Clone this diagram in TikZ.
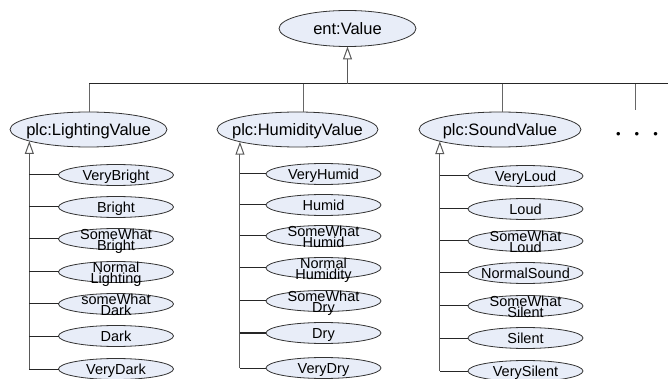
\documentclass[tikz,border=0pt]{standalone}
\usepackage{fontspec}
\setmainfont{Liberation Sans}
\usetikzlibrary{arrows.meta,shapes.geometric}
\definecolor{efill}{HTML}{E8EDF8}
\newcommand{\oneline}[1]{\makebox[0pt]{\raisebox{-0.36em}[0pt][0pt]{#1}}}
\newcommand{\twoline}[2]{\makebox[0pt]{\raisebox{-11.2pt}[0pt][0pt]{\vbox{\baselineskip=11pt\lineskiplimit=-100pt\halign{\hfil##\hfil\cr#1\cr#2\cr}}}}}
\tikzset{
  ell/.style={ellipse, draw=black!80, fill=efill, inner sep=0pt, outer sep=0pt, line width=0.8pt},
  topnode/.style={ell, minimum width=157pt, minimum height=35pt, font=\fontsize{16.5}{19}\selectfont},
  kid/.style={ell, minimum width=115pt, minimum height=21pt, font=\fontsize{14.5}{17}\selectfont},
  tri/.style={-{Triangle[fill=white, length=13pt, width=9pt]}, line width=1pt, draw=black!65},
  vline/.style={line width=1pt, draw=black!60},
  hline/.style={line width=1pt, draw=black!85}
}
\begin{document}
\begin{tikzpicture}[x=1pt, y=-1pt]
\useasboundingbox (0,0) rectangle (672,379);
% top level
\node[topnode, minimum width=137pt, minimum height=36pt] (ent) at (347.5,28.5) {\oneline{ent:Value}};
\node[topnode] (lv) at (88.5,129.5) {\oneline{plc:LightingValue}};
\node[topnode, minimum width=161pt] (hv) at (297.5,129.5) {\oneline{plc:HumidityValue}};
\node[topnode, minimum width=162pt] (sv) at (500,129.5) {\oneline{plc:SoundValue}};
\node[inner sep=0pt, font=\fontsize{13}{15}\selectfont] (dots) at (637,135) {•\hspace{14pt}•\hspace{14pt}•};
% bus
\coordinate (busL) at (89,84);
\coordinate (busR) at (668,84);
\coordinate (hk) at (303,84);
\coordinate (sk) at (502,84);
\coordinate (more) at (635,110);
\draw[hline] (busL) -- (busR);
\draw[tri] (ent |- busL) -- (ent.south);
\draw[vline] (busL) -- (busL |- lv.north);
\draw[vline] (hk) -- (hk |- hv.north);
\draw[vline] (sk) -- (sk |- sv.north);
\draw[vline] (more |- busL) -- (more);
% lighting children
\foreach \i/\y/\t in {1/175/{\oneline{VeryBright}}, 2/207/{\oneline{Bright}}, 3/239/{\twoline{SomeWhat}{Bright}}, 4/272/{\twoline{Normal}{Lighting}}, 5/304/{\twoline{someWhat}{Dark}}, 6/336/{\oneline{Dark}}, 7/369/{\oneline{VeryDark}}}
  \node[kid] (l\i) at (116,\y) {\t};
\coordinate (lt) at (lv.191.3);
\draw[tri] (lt |- l7) -- (lt);
\foreach \i in {1,...,7} \draw[hline] (lt |- l\i) -- (l\i.west);
% humidity children
\foreach \i/\y/\t in {1/174/{\oneline{VeryHumid}}, 2/205/{\oneline{Humid}}, 3/236/{\twoline{SomeWhat}{Humid}}, 4/268/{\twoline{Normal}{Humidity}}, 5/301/{\twoline{SomeWhat}{Dry}}, 6/333/{\oneline{Dry}}, 7/368/{\oneline{VeryDry}}}
  \node[kid] (h\i) at (323.5,\y) {\t};
\coordinate (ht) at (hv.192);
\draw[tri] (ht |- h7) -- (ht);
\foreach \i in {1,...,7} \draw[hline] (ht |- h\i) -- (h\i.west);
% sound children
\foreach \i/\y/\t in {1/176/{\oneline{VeryLoud}}, 2/209/{\oneline{Loud}}, 3/241/{\twoline{SomeWhat}{Loud}}, 4/273/{\oneline{NormalSound}}, 5/306/{\twoline{SomeWhat}{Silent}}, 6/338/{\oneline{Silent}}, 7/371/{\oneline{VerySilent}}}
  \node[kid] (s\i) at (525.5,\y) {\t};
\coordinate (st) at (sv.191.5);
\draw[tri] (st |- s7) -- (st);
\foreach \i in {1,...,7} \draw[hline] (st |- s\i) -- (s\i.west);
\end{tikzpicture}
\end{document}
